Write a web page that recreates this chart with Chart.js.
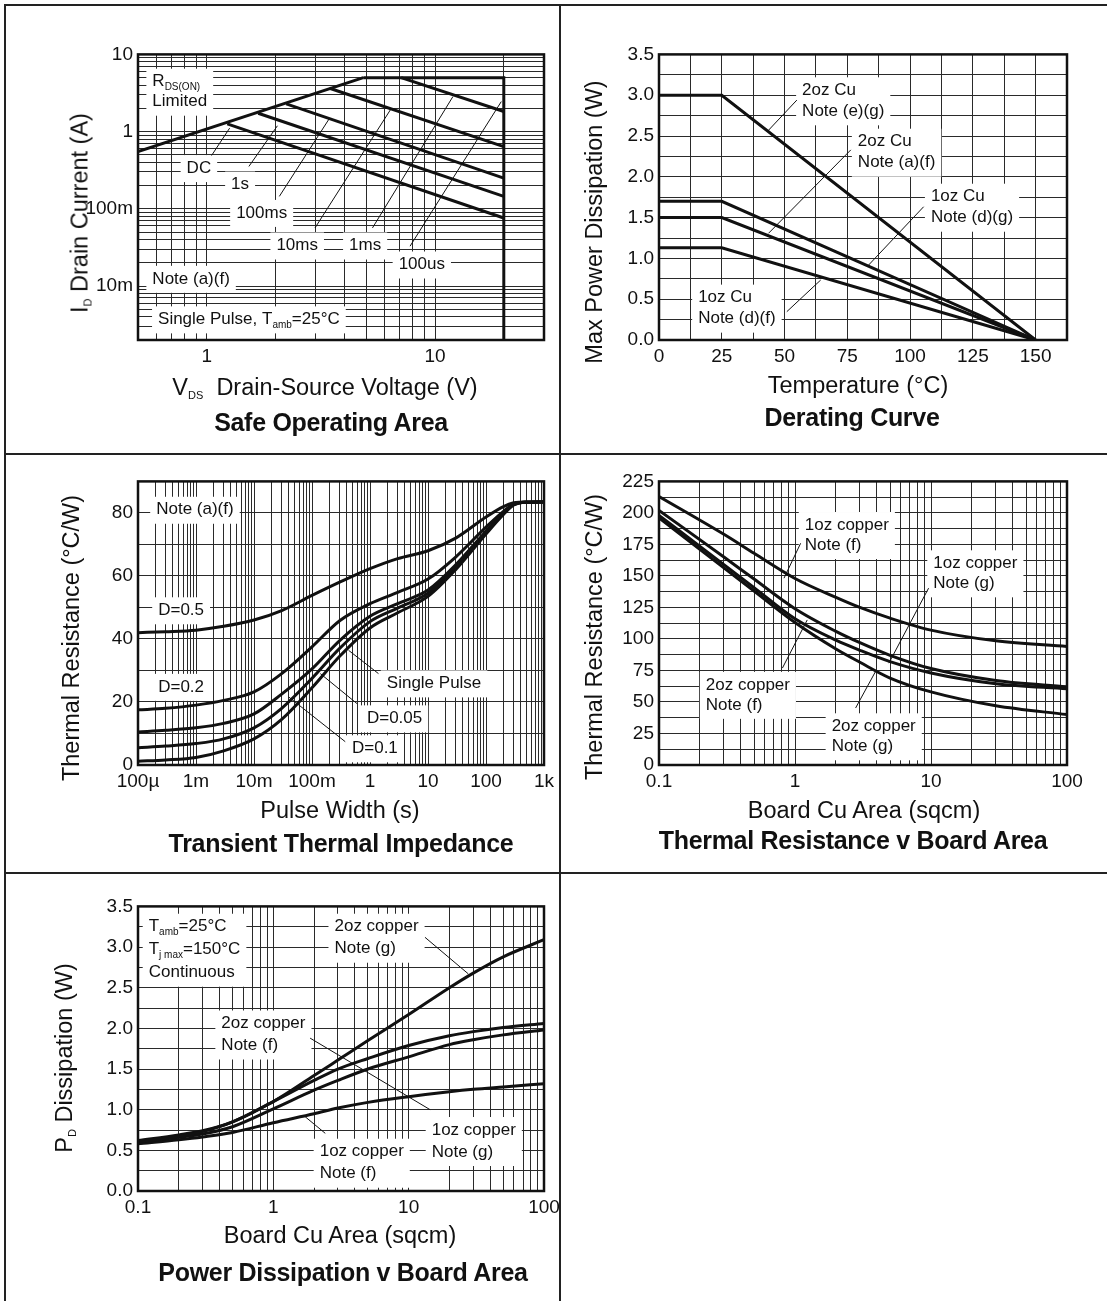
<!DOCTYPE html>
<html>
<head>
<meta charset="utf-8">
<script src="https://cdn.jsdelivr.net/npm/chart.js@4.4.1/dist/chart.umd.min.js"></script>
<style>
  body { margin: 0; background: #fff; width: 1107px; height: 1301px; position: relative; overflow: hidden;
         font-family: 'Liberation Sans', Arial, sans-serif; color: #111; }
  .rule { position: absolute; background: #222; }
  canvas { position: absolute; }
  .t { position: absolute; white-space: nowrap; transform: translate(-50%, -50%); font-size: 23.5px; z-index: 2; }
  .t.b { font-weight: bold; font-size: 25px; letter-spacing: -0.3px; }
  .t.v { transform: translate(-50%, -50%) rotate(-90deg); }
  .t sub { font-size: 11px; vertical-align: -4px; }
</style>
</head>
<body>
<div class="rule" style="left:4px;top:4px;width:1103px;height:2px"></div>
<div class="rule" style="left:4px;top:4px;width:2px;height:1297px"></div>
<div class="rule" style="left:559px;top:4px;width:2px;height:1297px"></div>
<div class="rule" style="left:4px;top:453px;width:1103px;height:2px"></div>
<div class="rule" style="left:4px;top:872px;width:1103px;height:2px"></div>

<div class="t v" style="left:80px;top:213px">I<sub>D</sub> Drain Current (A)</div>
<div class="t" style="left:325px;top:387px">V<sub>DS</sub>&nbsp; Drain-Source Voltage (V)</div>
<div class="t b" style="left:331px;top:422px">Safe Operating Area</div>

<div class="t v" style="left:594px;top:222px">Max Power Dissipation (W)</div>
<div class="t" style="left:858px;top:385px">Temperature (°C)</div>
<div class="t b" style="left:852px;top:417px">Derating Curve</div>

<div class="t v" style="left:71px;top:638px">Thermal Resistance (°C/W)</div>
<div class="t" style="left:340px;top:810px">Pulse Width (s)</div>
<div class="t b" style="left:341px;top:843px">Transient Thermal Impedance</div>

<div class="t v" style="left:594px;top:637px">Thermal Resistance (°C/W)</div>
<div class="t" style="left:864px;top:810px">Board Cu Area (sqcm)</div>
<div class="t b" style="left:853px;top:840px">Thermal Resistance v Board Area</div>

<div class="t v" style="left:64px;top:1058px">P<sub>D</sub> Dissipation (W)</div>
<div class="t" style="left:340px;top:1235px">Board Cu Area (sqcm)</div>
<div class="t b" style="left:343px;top:1272px">Power Dissipation v Board Area</div>

<script>
// ---- Safe Operating Area (V, A) ----
const soaRdsV = [0.5, 4.85];
const soaRdsI = [0.55, 5.0];
const soa100usV = [4.85, 20, 20];
const soa100usI = [5.0, 5.0, 0.002];
const soa1msV = [7.1, 20];
const soa1msI = [5.0, 1.82];
const soa10msV = [3.45, 20];
const soa10msI = [3.64, 0.64];
const soa100msV = [2.23, 20];
const soa100msI = [2.29, 0.25];
const soa1sV = [1.68, 20];
const soa1sI = [1.73, 0.145];
const soaDcV = [1.23, 20];
const soaDcI = [1.26, 0.076];
const soaXTicks = [1, 10];
const soaXLabels = ['1', '10'];
const soaYTicks = [0.01, 0.1, 1, 10];
const soaYLabels = ['10m', '100m', '1', '10'];
// leader lines: x0, y0, x1, y1
const soaLeaders = [[1.05, 0.49, 1.26, 1.11], [1.53, 0.354, 2.04, 1.19], [2.08, 0.145, 3.45, 1.49],
                    [2.98, 0.0566, 6.37, 1.91], [5.32, 0.0566, 11.97, 2.84], [7.77, 0.0328, 19.5, 2.45]];

// ---- Derating curve (°C, W) ----
const derateT = [0, 25, 150];
const derate2ozEG = [3.0, 3.0, 0];
const derate1ozDG = [1.7, 1.7, 0];
const derate2ozAF = [1.5, 1.5, 0];
const derate1ozDF = [1.13, 1.13, 0];
const derateXLabels = ['0', '25', '50', '75', '100', '125', '150'];
const derateYLabels = ['0.0', '0.5', '1.0', '1.5', '2.0', '2.5', '3.0', '3.5'];
const derateLeaders = [[43.6, 2.57, 54.9, 2.94], [43.6, 1.307, 76.4, 2.33],
                       [83.5, 0.919, 105.4, 1.633], [50.9, 0.347, 64.4, 0.735]];

// ---- Transient thermal impedance (s, °C/W) ----
const pulseWidth = [1e-4, 3e-4, 1e-3, 3e-3, 1e-2, 3e-2, 0.1, 0.3, 1, 3, 10, 30, 100, 200, 300, 500, 1000];
const zthD05 = [42, 42.3, 42.8, 44, 46, 49, 53.8, 58, 62.3, 65.5, 68, 72, 78.7, 82, 83.2, 83.5, 83.5];
const zthD02 = [17.5, 18, 19, 20.5, 23.2, 29, 37.5, 45.8, 51.2, 54.8, 59, 66, 75.5, 80.5, 82.8, 83.4, 83.5];
const zthD01 = [10.5, 11, 11.8, 13.2, 16.2, 22.5, 30.5, 39.5, 47.2, 51.2, 55.5, 63.5, 74.2, 80, 82.7, 83.4, 83.5];
const zthD005 = [5.5, 6, 6.8, 8.3, 11.8, 18, 27.5, 37, 45.5, 49.8, 54.5, 62.8, 73.8, 79.8, 82.6, 83.4, 83.5];
const zthSingle = [1.2, 1.6, 2.4, 4.5, 8.3, 14.5, 24.5, 34.5, 43.5, 48.3, 53.5, 62, 73.3, 79.5, 82.5, 83.4, 83.5];
const zthXTicks = [1e-4, 1e-3, 1e-2, 0.1, 1, 10, 100, 1000];
const zthXLabels = ['100µ', '1m', '10m', '100m', '1', '10', '100', '1k'];
const zthYLabels = ['0', '20', '40', '60', '80'];
const zthLeaders = [[0.427, 36.4, 1.40, 29.0], [0.139, 29.0, 0.596, 19.5], [0.0396, 21.6, 0.374, 7.4]];

// ---- Thermal resistance v board area (sqcm, °C/W) ----
const rthArea = [0.1, 0.3, 0.5, 1, 2, 3, 5, 10, 30, 100];
const rth1ozF = [213, 183, 168, 148, 133, 125, 116.5, 107, 98.5, 94];
const rth1ozG = [202, 165, 147.5, 124, 106, 97, 87, 76.5, 67, 62];
const rth2ozF = [198, 159, 140.7, 116, 99, 91, 82, 73, 64.5, 60.5];
const rth2ozG = [196, 156.4, 138, 113, 92, 81.5, 69, 58, 47, 40];
const areaTicks = [0.1, 1, 10, 100];
const areaLabels = ['0.1', '1', '10', '100'];
const rthYLabels = ['0', '25', '50', '75', '100', '125', '150', '175', '200', '225'];
const rthLeaders = [[0.83, 148.2, 1.10, 175.9], [4.9, 80.8, 9.6, 140.3],
                    [0.808, 76.9, 1.23, 115.1], [2.79, 45.2, 3.91, 74.2]];

// ---- Power dissipation v board area (sqcm, W) ----
const pdArea = [0.1, 0.2, 0.3, 0.5, 1, 2, 3, 5, 10, 20, 30, 50, 100];
const pd2ozG = [0.61, 0.67, 0.73, 0.85, 1.1, 1.42, 1.61, 1.85, 2.17, 2.5, 2.68, 2.88, 3.09];
const pd2ozF = [0.62, 0.69, 0.74, 0.85, 1.1, 1.36, 1.5, 1.63, 1.79, 1.91, 1.96, 2.01, 2.06];
const pd1ozG = [0.6, 0.66, 0.7, 0.79, 1.01, 1.24, 1.36, 1.5, 1.65, 1.8, 1.86, 1.92, 1.98];
const pd1ozF = [0.58, 0.63, 0.665, 0.72, 0.84, 0.95, 1.02, 1.09, 1.16, 1.22, 1.25, 1.28, 1.32];
const pdYLabels = ['0.0', '0.5', '1.0', '1.5', '2.0', '2.5', '3.0', '3.5'];
const pdLeaders = [[13.2, 3.12, 27.6, 2.67], [1.87, 1.88, 14.4, 1.0], [1.72, 0.913, 2.42, 0.709]];

const FONT = "'Liberation Sans', Arial, sans-serif";
Chart.defaults.font.family = FONT;
Chart.defaults.color = '#111';

function pts(xs, ys) {
    return xs.map((x, i) => ({ x: x, y: ys[i] }));
}

function curve(xs, ys, smooth) {
    return {
        data: pts(xs, ys),
        borderColor: '#111',
        borderWidth: 3,
        pointRadius: 0,
        cubicInterpolationMode: smooth ? 'monotone' : 'default',
        tension: 0
    };
}

function leaders(list) {
    return list.map(l => ({
        data: [{ x: l[0], y: l[1] }, { x: l[2], y: l[3] }],
        borderColor: '#111',
        borderWidth: 1,
        pointRadius: 0,
        tension: 0
    }));
}

function logGrid(min, max) {
    const out = [];
    for (let e = Math.floor(Math.log10(min)); e <= Math.ceil(Math.log10(max)); e++) {
        for (let m = 1; m <= 9; m++) {
            const v = Number((m * Math.pow(10, e)).toPrecision(6));
            if (v >= min * 0.999999 && v <= max * 1.000001) out.push(v);
        }
    }
    return out;
}

function linGrid(min, max, step) {
    const out = [];
    for (let v = min; v <= max + 1e-9; v += step) out.push(Number(v.toFixed(6)));
    return out;
}

function labelFor(vals, texts, v) {
    const i = vals.findIndex(t => Math.abs(t - v) <= Math.abs(t) * 1e-6 + 1e-9);
    return i < 0 ? '' : texts[i];
}

function axis(type, min, max, grid, tickVals, tickTexts) {
    return {
        type: type,
        min: min,
        max: max,
        afterBuildTicks: s => { s.ticks = grid.map(v => ({ value: v })); },
        ticks: {
            autoSkip: false,
            maxRotation: 0,
            padding: 5,
            color: '#111',
            font: { size: 19 },
            callback: v => labelFor(tickVals, tickTexts, v)
        },
        grid: { color: '#2a2a2a', lineWidth: 1, drawTicks: false },
        border: { display: false }
    };
}

// text with _{sub} parts
function parts(s) {
    const out = [];
    const re = /_\{([^}]*)\}/g;
    let last = 0, m;
    while ((m = re.exec(s))) {
        if (m.index > last) out.push({ t: s.slice(last, m.index), sub: false });
        out.push({ t: m[1], sub: true });
        last = re.lastIndex;
    }
    if (last < s.length) out.push({ t: s.slice(last), sub: false });
    return out;
}

function richWidth(ctx, s) {
    let w = 0;
    parts(s).forEach(p => {
        ctx.font = (p.sub ? '10px ' : '17px ') + FONT;
        w += ctx.measureText(p.t).width;
    });
    return w;
}

function drawRich(ctx, s, x, y) {
    parts(s).forEach(p => {
        ctx.font = (p.sub ? '10px ' : '17px ') + FONT;
        ctx.fillText(p.t, x, p.sub ? y + 6 : y);
        x += ctx.measureText(p.t).width;
    });
}

const notePlugin = {
    id: 'notes',
    beforeDatasetsDraw(chart, args, opts) {
        const ctx = chart.ctx;
        const xs = chart.scales.x, ys = chart.scales.y;
        ctx.save();
        ctx.textBaseline = 'middle';
        (opts.items || []).forEach(n => {
            const px = xs.getPixelForValue(n.x);
            const py = ys.getPixelForValue(n.y);
            const lh = n.lh || 21;
            const widths = n.lines.map(l => richWidth(ctx, l));
            const w = Math.max(...widths);
            const left = n.align === 'center' ? px - w / 2 : px;
            ctx.fillStyle = '#fff';
            ctx.fillRect(left - 6, py - 13, w + 12, lh * (n.lines.length - 1) + 27);
            ctx.fillStyle = '#111';
            n.lines.forEach((l, i) => {
                const lx = n.align === 'center' ? px - widths[i] / 2 : left;
                drawRich(ctx, l, lx, py + i * lh);
            });
        });
        ctx.restore();
    }
};

const framePlugin = {
    id: 'frame',
    afterDatasetsDraw(chart) {
        const a = chart.chartArea, ctx = chart.ctx;
        ctx.save();
        ctx.strokeStyle = '#111';
        ctx.lineWidth = 2.5;
        ctx.strokeRect(a.left, a.top, a.right - a.left, a.bottom - a.top);
        ctx.restore();
    }
};

function buildChart(box, xAxis, yAxis, datasets, notes) {
    const padL = 80, padT = 16, padR = 30, padB = 36;
    const canvas = document.createElement('canvas');
    canvas.width = box.R - box.L + padL + padR;
    canvas.height = box.B - box.T + padT + padB;
    canvas.style.left = (box.L - padL) + 'px';
    canvas.style.top = (box.T - padT) + 'px';
    document.body.appendChild(canvas);
    xAxis.afterFit = s => { s.height = padB; };
    yAxis.afterFit = s => { s.width = padL; };
    return new Chart(canvas, {
        type: 'line',
        data: { datasets: datasets },
        options: {
            responsive: false,
            animation: false,
            layout: { padding: { left: 0, top: padT, right: padR, bottom: 0 } },
            plugins: {
                legend: { display: false },
                tooltip: { enabled: false },
                notes: { items: notes }
            },
            scales: { x: xAxis, y: yAxis }
        },
        plugins: [notePlugin, framePlugin]
    });
}

// Safe Operating Area
buildChart(
    { L: 138, T: 54, R: 544, B: 340 },
    axis('logarithmic', 0.5, 30, logGrid(0.5, 30), soaXTicks, soaXLabels),
    axis('logarithmic', 0.002, 10, logGrid(0.002, 10), soaYTicks, soaYLabels),
    [curve(soaRdsV, soaRdsI), curve(soa100usV, soa100usI), curve(soa1msV, soa1msI),
     curve(soa10msV, soa10msI), curve(soa100msV, soa100msI), curve(soa1sV, soa1sI),
     curve(soaDcV, soaDcI)].concat(leaders(soaLeaders)),
    [
        { x: 0.578, y: 4.43, lines: ['R_{DS(ON)}', 'Limited'], lh: 20 },
        { x: 0.924, y: 0.337, lines: ['DC'], align: 'center' },
        { x: 1.40, y: 0.206, lines: ['1s'], align: 'center' },
        { x: 1.74, y: 0.0885, lines: ['100ms'], align: 'center' },
        { x: 2.49, y: 0.0335, lines: ['10ms'], align: 'center' },
        { x: 4.94, y: 0.0335, lines: ['1ms'], align: 'center' },
        { x: 8.75, y: 0.019, lines: ['100us'], align: 'center' },
        { x: 0.578, y: 0.0124, lines: ['Note (a)(f)'] },
        { x: 1.53, y: 0.0037, lines: ['Single Pulse, T_{amb}=25°C'], align: 'center' }
    ]
);

// Derating Curve
buildChart(
    { L: 659, T: 54, R: 1067, B: 340 },
    axis('linear', 0, 162.5, linGrid(0, 162.5, 12.5), [0, 25, 50, 75, 100, 125, 150], derateXLabels),
    axis('linear', 0, 3.5, linGrid(0, 3.5, 0.25), [0, 0.5, 1, 1.5, 2, 2.5, 3, 3.5], derateYLabels),
    [curve(derateT, derate2ozEG), curve(derateT, derate1ozDG), curve(derateT, derate2ozAF),
     curve(derateT, derate1ozDF)].concat(leaders(derateLeaders)),
    [
        { x: 57.0, y: 3.06, lines: ['2oz Cu', 'Note (e)(g)'] },
        { x: 79.2, y: 2.43, lines: ['2oz Cu', 'Note (a)(f)'] },
        { x: 108.3, y: 1.756, lines: ['1oz Cu', 'Note (d)(g)'] },
        { x: 15.6, y: 0.519, lines: ['1oz Cu', 'Note (d)(f)'] }
    ]
);

// Transient Thermal Impedance
buildChart(
    { L: 138, T: 481, R: 544, B: 765 },
    axis('logarithmic', 1e-4, 1000, logGrid(1e-4, 1000), zthXTicks, zthXLabels),
    axis('linear', 0, 90, linGrid(0, 90, 10), [0, 20, 40, 60, 80], zthYLabels),
    [curve(pulseWidth, zthD05, true), curve(pulseWidth, zthD02, true), curve(pulseWidth, zthD01, true),
     curve(pulseWidth, zthD005, true), curve(pulseWidth, zthSingle, true)].concat(leaders(zthLeaders)),
    [
        { x: 2.06e-4, y: 81.0, lines: ['Note (a)(f)'] },
        { x: 2.23e-4, y: 49.1, lines: ['D=0.5'] },
        { x: 2.23e-4, y: 24.8, lines: ['D=0.2'] },
        { x: 1.95, y: 25.9, lines: ['Single Pulse'] },
        { x: 0.885, y: 14.8, lines: ['D=0.05'] },
        { x: 0.489, y: 5.3, lines: ['D=0.1'] }
    ]
);

// Thermal Resistance v Board Area
buildChart(
    { L: 659, T: 481, R: 1067, B: 765 },
    axis('logarithmic', 0.1, 100, logGrid(0.1, 100), areaTicks, areaLabels),
    axis('linear', 0, 225, linGrid(0, 225, 12.5), [0, 25, 50, 75, 100, 125, 150, 175, 200, 225], rthYLabels),
    [curve(rthArea, rth1ozF, true), curve(rthArea, rth1ozG, true), curve(rthArea, rth2ozF, true),
     curve(rthArea, rth2ozG, true)].concat(leaders(rthLeaders)),
    [
        { x: 1.18, y: 190.4, lines: ['1oz copper', 'Note (f)'], lh: 20 },
        { x: 10.4, y: 160, lines: ['1oz copper', 'Note (g)'], lh: 20 },
        { x: 0.221, y: 63.6, lines: ['2oz copper', 'Note (f)'], lh: 20 },
        { x: 1.86, y: 30.7, lines: ['2oz copper', 'Note (g)'], lh: 20 }
    ]
);

// Power Dissipation v Board Area
buildChart(
    { L: 138, T: 906, R: 544, B: 1191 },
    axis('logarithmic', 0.1, 100, logGrid(0.1, 100), areaTicks, areaLabels),
    axis('linear', 0, 3.5, linGrid(0, 3.5, 0.25), [0, 0.5, 1, 1.5, 2, 2.5, 3, 3.5], pdYLabels),
    [curve(pdArea, pd2ozG, true), curve(pdArea, pd2ozF, true), curve(pdArea, pd1ozG, true),
     curve(pdArea, pd1ozF, true)].concat(leaders(pdLeaders)),
    [
        { x: 0.12, y: 3.25, lines: ['T_{amb}=25°C', 'T_{j max}=150°C', 'Continuous'], lh: 23 },
        { x: 2.83, y: 3.25, lines: ['2oz copper', 'Note (g)'], lh: 22 },
        { x: 0.413, y: 2.06, lines: ['2oz copper', 'Note (f)'], lh: 22 },
        { x: 14.8, y: 0.75, lines: ['1oz copper', 'Note (g)'], lh: 22 },
        { x: 2.2, y: 0.483, lines: ['1oz copper', 'Note (f)'], lh: 22 }
    ]
);
</script>
</body>
</html>
